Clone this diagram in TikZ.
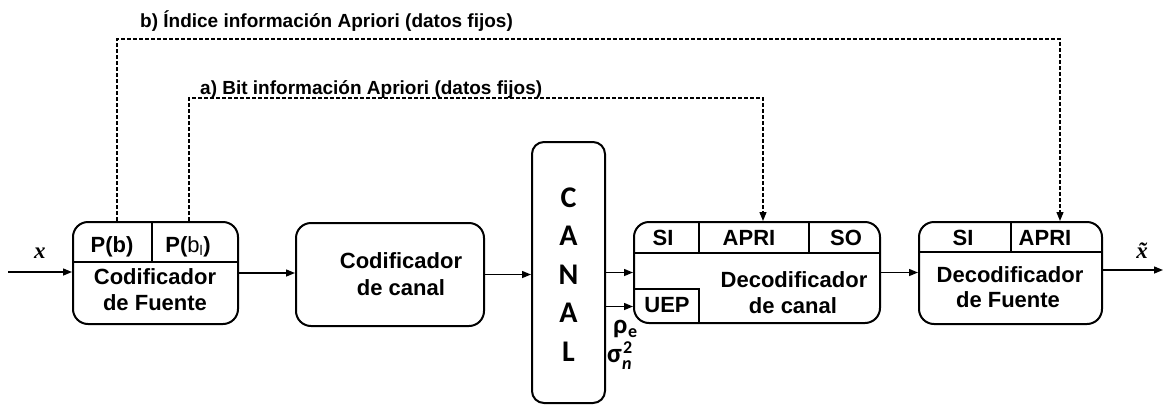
\documentclass[tikz,border=0pt]{standalone}
\usepackage{fontspec}
\setmainfont{Liberation Sans}
\newfontfamily\calib{Carlito}
\newfontfamily\serifb{Liberation Serif}
\usetikzlibrary{arrows.meta}

\tikzset{
  blk/.style={draw, line width=2pt, rounded corners=15pt, inner sep=0pt},
  sep/.style={line width=2pt},
  arr/.style={line width=1.4pt, -{Triangle[length=9pt,width=7pt]}},
  dsh/.style={line width=1.3pt, dash pattern=on 4pt off 2pt, -{Triangle[length=9pt,width=7pt]}},
  lbl/.style={anchor=base, inner sep=0pt, font=\bfseries\fontsize{22}{26}\selectfont},
  toplbl/.style={anchor=base west, inner sep=0pt, font=\bfseries\fontsize{19}{23}\selectfont},
  grk/.style={anchor=base west, inner sep=0pt, font=\calib\bfseries\fontsize{27}{30}\selectfont},
  grks/.style={anchor=base west, inner sep=0pt, font=\calib\bfseries\fontsize{18}{20}\selectfont},
  vlbl/.style={anchor=base, inner sep=0pt, font=\serifb\bfseries\itshape\fontsize{23}{26}\selectfont},
}

\begin{document}
\begin{tikzpicture}[x=1pt, y=-1pt]
\useasboundingbox (0,0) rectangle (1163,405);

% blocks
\node[blk, minimum width=165pt, minimum height=102pt] (cf) at (155.5,273) {};
\node[blk, minimum width=188pt, minimum height=103pt] (cc) at (390,274.5) {};
\node[blk, rounded corners=12pt, minimum width=73pt, minimum height=261pt] (canal) at (568.5,272.5) {};
\node[blk, minimum width=246pt, minimum height=101pt] (dc) at (757,272.5) {};
\node[blk, minimum width=183pt, minimum height=102pt] (df) at (1010.5,273) {};

% source encoder fields
\draw[sep] (cf.west |- 0,262) -- (cf.east |- 0,262);
\draw[sep] (152,262) -- (152,222);
\node[lbl] at (112,252) {P(b)};
\node[lbl] at (188,252) {P(\mdseries b\textsubscript{\fontsize{14}{14}\selectfont l}\bfseries)};
\node[lbl] at (155,284) {Codificador};
\node[lbl] at (155,310) {de Fuente};

% channel encoder
\node[lbl] at (401,268) {Codificador};
\node[lbl] at (401,295) {de canal};

% channel
\node[inner sep=0pt, align=center, font=\calib\bfseries\fontsize{30}{38.5}\selectfont] (canaltxt) at ([yshift=-2pt]canal) {C\\A\\N\\A\\L};

% channel decoder fields
\draw[sep] (dc.west |- 0,253) -- (dc.east |- 0,253);
\draw[sep] (699,222) -- (699,253);
\draw[sep] (809,222) -- (809,253);
\draw[sep] (dc.west |- 0,289) -- (699,289) -- (699,323);
\node[lbl] at (663,245) {SI};
\node[lbl] at (749,245) {APRI};
\node[lbl] at (846,245) {SO};
\node[lbl] at (794,287) {Decodificador};
\node[lbl] at (793,313) {de canal};
\node[lbl] at (667,312) {UEP};

% source decoder fields
\draw[sep] (df.west |- 0,252) -- (df.east |- 0,252);
\draw[sep] (1011,222) -- (1011,252);
\node[lbl] at (963,245) {SI};
\node[lbl] at (1045,245) {APRI};
\node[lbl] at (1010,282) {Decodificador};
\node[lbl] at (1008,307) {de Fuente};

% channel parameters
\node[grk] (rho) at (613,333) {ρ};
\node[grks] at (628,337) {e};
\node[grk] (sig) at (607,362) {σ};
\node[grks] at (623,353) {2};
\node[grks] at (622,369) {\itshape n};

% input / output
\coordinate (pin) at (8,272);
\coordinate (pout) at (1163,270);
\node[vlbl] (xin) at (40,258) {x};
\node[vlbl] (xout) at (1142,258) {\~{x}};

% signal path
\draw[arr] (pin) -- (pin -| cf.west);
\draw[arr] (cf.east) -- (cf.east -| cc.west);
\draw[arr] (cc.east) -- (cc.east -| canal.west);
\draw[arr] (canal.east |- dc.west) -- (dc.west);
\coordinate (dcin) at ([yshift=-34pt]dc.west);
\draw[arr] (canal.east |- dcin) -- (dcin);
\draw[arr] (dc.east) -- (dc.east -| df.west);
\draw[arr] (df.east |- pout) -- (pout);

% a priori side information
\coordinate (btop) at (0,39);
\coordinate (atop) at (0,98);
\coordinate (bA) at ([xshift=-38.5pt]cf.north);
\coordinate (aA) at ([xshift=33.5pt]cf.north);
\coordinate (bB) at ([xshift=49.5pt]df.north);
\coordinate (aB) at ([xshift=6pt]dc.north);
\draw[dsh] (bA) -- (bA |- btop) -| (bB);
\draw[dsh] (aA) -- (aA |- atop) -| (aB);
\node[toplbl] (blbl) at (140,27) {b) Índice información Apriori (datos fijos)};
\node[toplbl] (albl) at (200,94) {a) Bit información Apriori (datos fijos)};
\end{tikzpicture}
\end{document}
